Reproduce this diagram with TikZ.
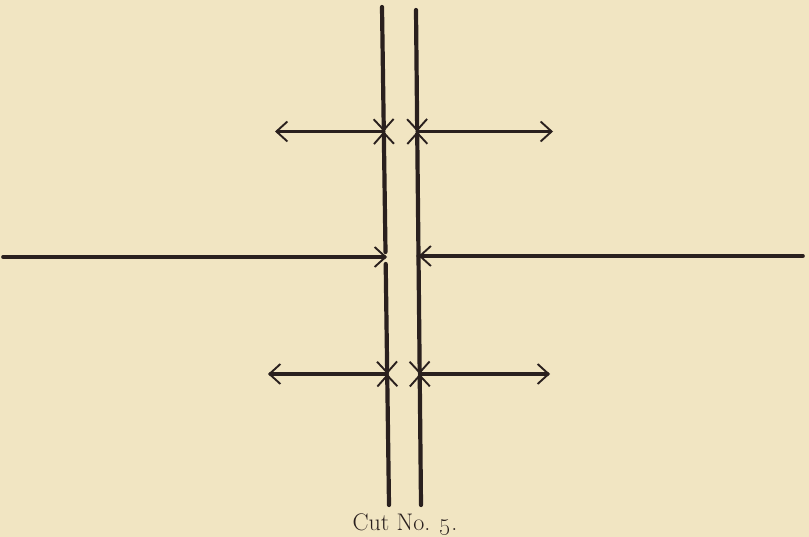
\documentclass[tikz,border=0pt]{standalone}
\usepackage{tikz}
\usetikzlibrary{arrows.meta}
\definecolor{cutbg}{RGB}{241,229,194}
\definecolor{cutink}{RGB}{42,32,30}
\tikzset{
  wire/.style={draw=cutink, line width=4.2pt, line cap=round},
  barb/.style={-{Straight Barb[length=11pt,width=20pt,line width=1.9pt]}},
  varr/.style={wire, barb},
  harr/.style={wire, barb, line width=3.6pt},
  caption/.style={font=\fontsize{24}{28}\selectfont, text=cutink, anchor=base, inner sep=0pt}
}
\begin{document}
\begin{tikzpicture}[x=1pt, y=-1pt]
  \fill[cutbg] (0,0) rectangle (809,537);
  \useasboundingbox (0,0) rectangle (809,537);
  % left upright
  \coordinate (ltop) at (382,7);
  \coordinate (lj1) at (383.8,131.5);
  \coordinate (lgapa) at (385.5,252);
  \coordinate (lgapb) at (385.7,264);
  \coordinate (lj2) at (387.2,374);
  \coordinate (lbot) at (389,505);
  % right upright
  \coordinate (rtop) at (416,10);
  \coordinate (rj1) at (417.2,131.5);
  \coordinate (rmid) at (418.5,256);
  \coordinate (rj2) at (419.7,374);
  \coordinate (rbot) at (421,505);
  % free ends of the cross arrows
  \coordinate (tl) at (275,131.5);
  \coordinate (tr) at (553,131.5);
  \coordinate (bl) at (268,374);
  \coordinate (br) at (550,374);
  \coordinate (mlend) at (3,257);
  \coordinate (mltip) at (387,257);
  \coordinate (mrend) at (803,256);
  \draw[varr] (ltop) -- (lj1);
  \draw[varr] (lgapa) -- (lj1);
  \draw[varr] (lgapb) -- (lj2);
  \draw[varr] (lbot) -- (lj2);
  \draw[varr] (rtop) -- (rj1);
  \draw[varr] (rmid) -- (rj1);
  \draw[varr] (rmid) -- (rj2);
  \draw[varr] (rbot) -- (rj2);
  \draw[harr] (lj1) -- (tl);
  \draw[harr] (rj1) -- (tr);
  \draw[harr] (lj2) -- (bl);
  \draw[harr] (rj2) -- (br);
  \draw[harr] (mlend) -- (mltip);
  \draw[harr] (mrend) -- (rmid);
  \node[caption] (cap) at (405,530) {Cut No. \oldstylenums{5}.};
\end{tikzpicture}
\end{document}
